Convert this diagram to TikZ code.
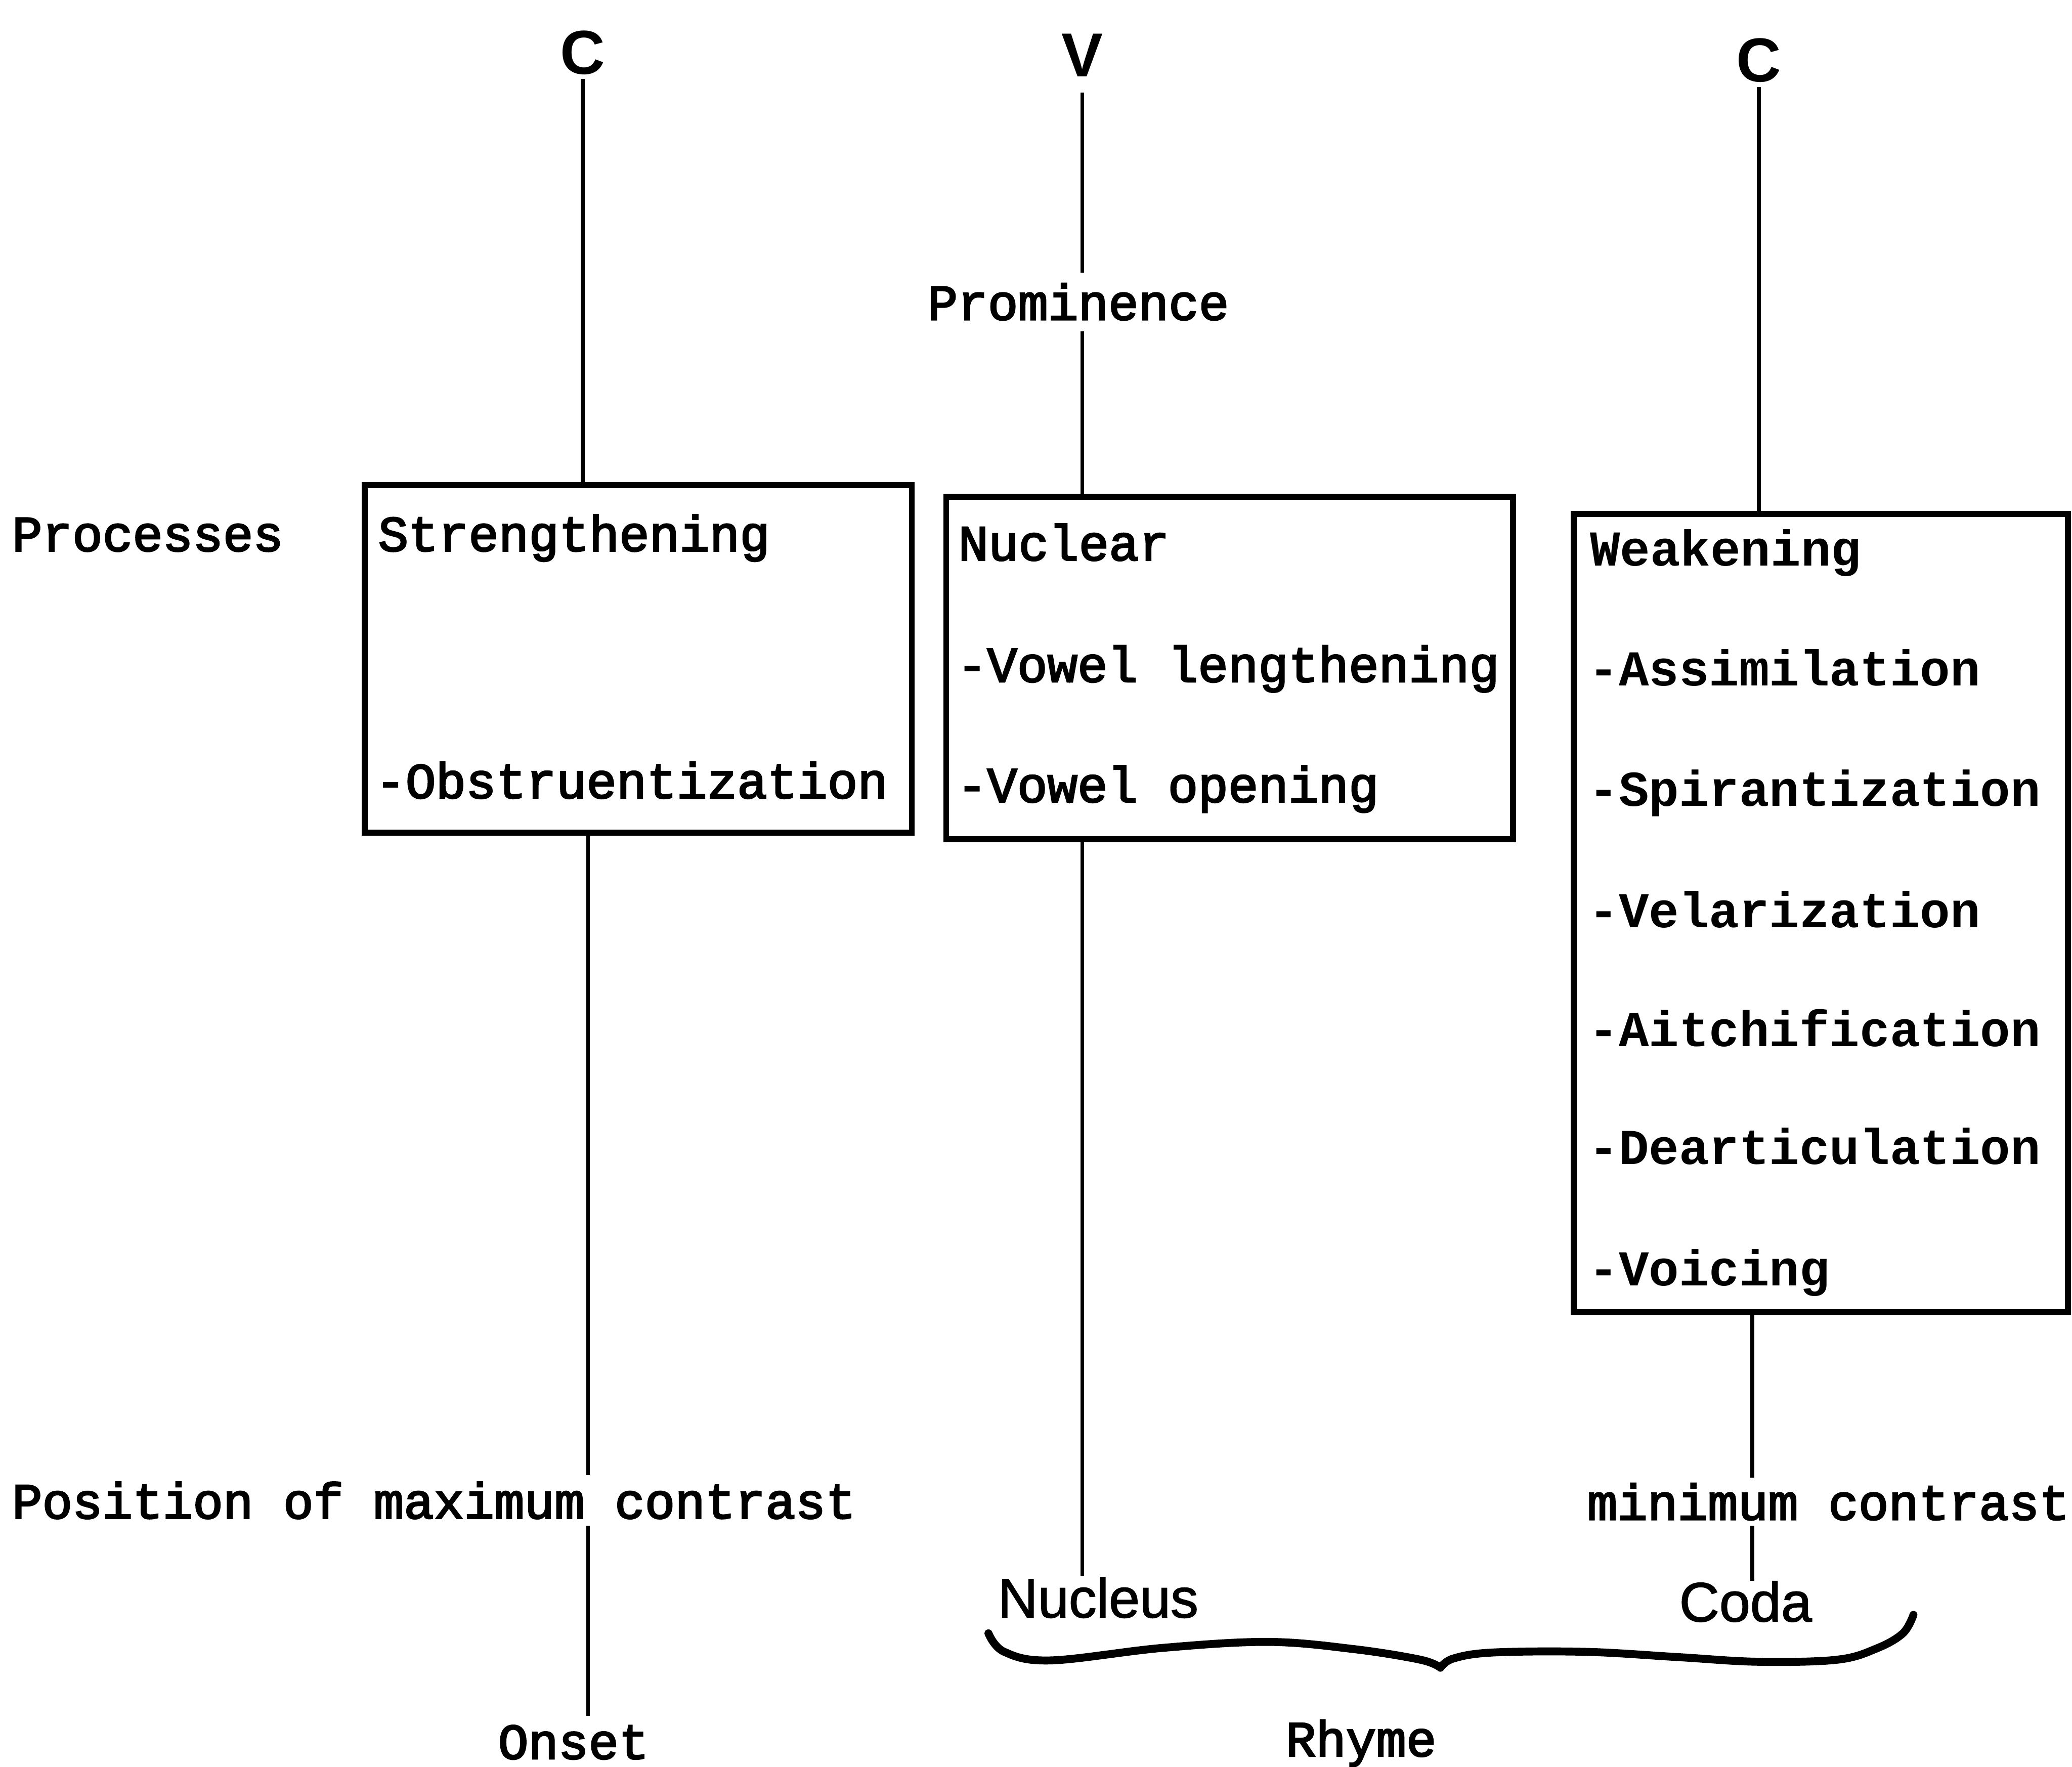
\documentclass[tikz,border=0pt]{standalone}
\usepackage{fontspec}
\setmainfont{Liberation Serif}
\newfontfamily\twr{Liberation Mono}[FakeBold=3]
\newfontfamily\twk{Liberation Mono}
\newfontfamily\sfl{Liberation Sans}[FakeBold=1.5]
\newfontfamily\sfb{Liberation Sans}
\tikzset{
  pbox/.style={draw, line width=4.5pt, rectangle, inner sep=0pt},
  conn/.style={line width=3pt},
  mt/.style={inner sep=0pt, anchor=base west, font=\twr\fontsize{38}{40}\selectfont},
  mtb/.style={inner sep=0pt, anchor=base west, font=\twk\bfseries\fontsize{38}{40}\selectfont},
  mtc/.style={anchor=base, font=\twr\fontsize{38}{40}\selectfont},
  slab/.style={anchor=base, inner sep=1pt, font=\sfl\fontsize{42}{44}\selectfont},
  toplab/.style={anchor=base, inner sep=3pt, font=\sfb\bfseries\fontsize{47}{49}\selectfont},
  bracepath/.style={line width=6pt, line cap=round, line join=round}
}
\begin{document}
\begin{tikzpicture}[x=1pt,y=-1pt]
\useasboundingbox (0,0) rectangle (1568,1337);

% top labels
\node[toplab] (C1) at (441,56) {C};
\node[toplab, inner ysep=12pt] (V) at (819,58) {V};
\node[toplab] (C2) at (1331,62) {C};

% boxes
\node[pbox, minimum width=414pt, minimum height=263pt] (b1) at (483,498.5) {};
\node[pbox, minimum width=429pt, minimum height=259pt] (b2) at (930.5,505.5) {};
\node[pbox, minimum width=374pt, minimum height=604pt] (b3) at (1378,691) {};

% side labels
\node[mt] (proc) at (9,417) {Processes};
\node[mt, inner ysep=5pt] (pm) at (9,1149) {Position of maximum contrast};
\node[mt, inner ysep=4pt] (mc) at (1201,1150) {minimum contrast};
\node[mtc, inner sep=8pt] (prom) at (816,242) {Prominence};

% box texts
\node[mt] (t11) at (286,417) {Strengthening};
\node[mt] (t12) at (284,604) {-Obstruentization};
\node[mt] (t21) at (725,424) {Nuclear};
\node[mt] (t22) at (724,516) {-Vowel lengthening};
\node[mt] (t23) at (724,607) {-Vowel opening};
\node[mtb] (t31) at (1203,428) {Weakening};
\node[mtb] (t32) at (1202,519) {-Assimilation};
\node[mtb] (t33) at (1202,610) {-Spirantization};
\node[mtb] (t34) at (1202,702) {-Velarization};
\node[mtb] (t35) at (1202,792) {-Aitchification};
\node[mtb] (t36) at (1202,881) {-Dearticulation};
\node[mtb] (t37) at (1202,973) {-Voicing};

% bottom labels
\node[slab] (nuc) at (831,1224) {Nucleus};
\node[slab, inner sep=0pt] (coda) at (1321,1227) {Coda};
\node[mtc, inner sep=0pt, inner ysep=7pt] (on) at (434,1331) {Onset};
\node[mtc, inner sep=0pt] (rh) at (1030,1329) {Rhyme};

% connector x positions
\coordinate (xa) at (445,0);
\coordinate (xc) at (1326,0);

% connectors
\draw[conn] (C1.south) -- (C1.south |- b1.north);
\draw[conn] (xa |- b1.south) -- (xa |- pm.north);
\draw[conn] (xa |- pm.south) -- (xa |- on.north);

\draw[conn] (V.south) -- (V.south |- prom.north);
\draw[conn] (V.south |- prom.south) -- (V.south |- b2.north);
\draw[conn] (V.south |- b2.south) -- (V.south |- nuc.north);

\draw[conn] (C2.south) -- (C2.south |- b3.north);
\draw[conn] (xc |- b3.south) -- (xc |- mc.north);
\draw[conn] (xc |- mc.south) -- (xc |- coda.north);

% brace
\coordinate (tip) at (1090,1262);
\draw[bracepath] plot[smooth, tension=0.6] coordinates {(748,1236) (760,1250) (795,1256.5) (880,1247) (960,1242.5) (1025,1248) (1075,1256) (tip)};
\draw[bracepath] plot[smooth, tension=0.6] coordinates {(tip) (1100,1255) (1130,1250.5) (1200,1250) (1270,1254) (1330,1257.5) (1390,1256) (1420,1247.5) (1440,1236) (1448,1222)};
\end{tikzpicture}
\end{document}
